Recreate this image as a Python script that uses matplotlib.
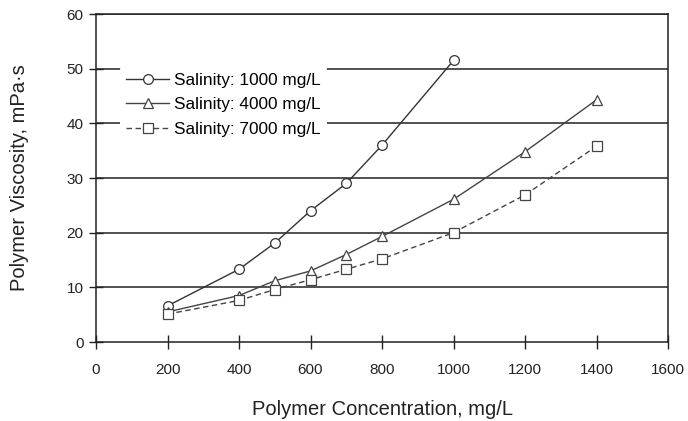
import matplotlib.pyplot as plt

plt.rcParams['font.family'] = ['Liberation Sans', 'DejaVu Sans']

# data
conc_1000 = [200, 400, 500, 600, 700, 800, 1000]
visc_1000 = [6.6, 13.3, 18.1, 24.0, 29.0, 36.0, 51.5]

conc_4000 = [200, 400, 500, 600, 700, 800, 1000, 1200, 1400]
visc_4000 = [5.5, 8.5, 11.2, 13.0, 16.0, 19.3, 26.1, 34.8, 44.3]

conc_7000 = [200, 400, 500, 600, 700, 800, 1000, 1200, 1400]
visc_7000 = [5.1, 7.6, 9.6, 11.4, 13.3, 15.2, 20.0, 26.9, 35.8]

x_ticks = [0, 200, 400, 600, 800, 1000, 1200, 1400, 1600]
y_ticks = [0, 10, 20, 30, 40, 50, 60]

fig = plt.figure(figsize=(6.88, 4.21), dpi=100)
ax = fig.add_axes([96 / 688, 1 - 342 / 421, 572 / 688, 328 / 421])

for y in y_ticks[1:]:
    ax.axhline(y, color='#222222', lw=1.1, zorder=1)

mk = dict(markersize=7, markerfacecolor='white', markeredgewidth=0.9)
ax.plot(conc_1000, visc_1000, '-', marker='o', color='#333333', lw=1.0,
        label='Salinity: 1000 mg/L', zorder=3, **mk)
ax.plot(conc_4000, visc_4000, '-', marker='^', color='#444444', lw=1.0,
        label='Salinity: 4000 mg/L', zorder=3, **mk)
ax.plot(conc_7000, visc_7000, '--', marker='s', color='#444444', lw=1.0,
        dashes=(4, 2.5), label='Salinity: 7000 mg/L', zorder=3,
        **dict(mk, markersize=6.5))

ax.set_xlim(0, 1600)
ax.set_ylim(0, 60)
ax.set_xticks(x_ticks)
ax.set_yticks(y_ticks)
ax.tick_params(direction='inout', length=10, width=1, labelsize=11,
               colors='#222222')
ax.tick_params(axis='x', pad=10)
ax.tick_params(axis='y', pad=4)
for s in ax.spines.values():
    s.set_linewidth(1.1)
    s.set_color('#222222')

ax.set_xlabel('Polymer Concentration, mg/L', fontsize=14.5, labelpad=17,
              color='#222222')
ax.set_ylabel('Polymer Viscosity, mPa\u00b7s', fontsize=14.5, labelpad=27,
              color='#222222')

leg = ax.legend(loc='upper left', bbox_to_anchor=(0.042, 0.84), frameon=True,
                fontsize=12.4, handlelength=2.5, labelspacing=0.55,
                borderpad=0.35, handletextpad=0.3, borderaxespad=0)
leg.get_frame().set_edgecolor('none')
leg.get_frame().set_facecolor('white')
leg.get_frame().set_alpha(1)
leg.set_zorder(4)

fig.savefig('out.png', dpi=100)
